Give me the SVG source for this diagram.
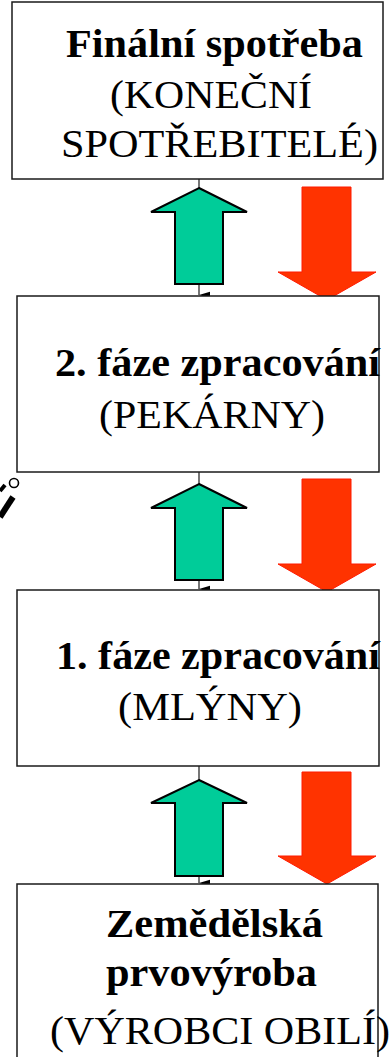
<svg xmlns="http://www.w3.org/2000/svg" width="392" height="1057" viewBox="0 0 392 1057">
  <defs>
    <style>
      .box { fill: #ffffff; stroke: #1a1a1a; stroke-width: 1.5; }
      .t { font-family: "Liberation Serif", "Times New Roman", serif; font-size: 41px; fill: #000000; }
      .b { font-weight: bold; }
      .conn { stroke: #1a1a1a; stroke-width: 1.2; fill: none; }
      .up { fill: #00CC99; stroke: #000000; stroke-width: 2; stroke-linejoin: miter; }
      .down { fill: #FF3300; stroke: #FF1A00; stroke-width: 1; }
    </style>
    <marker id="tip" markerUnits="userSpaceOnUse" markerWidth="8" markerHeight="12" refX="4" refY="11" orient="auto-start-reverse" viewBox="0 0 8 12">
      <path d="M0.8,0 L7.2,0 L4,11 Z" fill="#000000"/>
    </marker>
  </defs>
  <rect width="392" height="1057" fill="#ffffff"/>

  <g id="connectors">
    <line class="conn" x1="199" y1="179" x2="199" y2="295" marker-end="url(#tip)"/>
    <line class="conn" x1="199" y1="472" x2="199" y2="589" marker-end="url(#tip)"/>
    <line class="conn" x1="199" y1="766" x2="199" y2="883" marker-end="url(#tip)"/>
  </g>

  <g id="flows">
    <polygon class="up" points="199,188 247,212 223,212 223,284 175,284 175,212 151,212"/>
    <polygon class="up" points="199,484 247,508 223,508 223,580 175,580 175,508 151,508"/>
    <polygon class="up" points="199,780 247,803 223,803 223,876 175,876 175,803 151,803"/>
    <polygon class="down" points="302,187 351,187 351,272 376,272 327,300 278,272 302,272"/>
    <polygon class="down" points="302,479 351,479 351,564 376,564 327,592 278,564 302,564"/>
    <polygon class="down" points="302,772 351,772 351,856 376,856 327,884 278,856 302,856"/>
  </g>

  <g id="node-final">
    <rect class="box" x="12" y="2" width="371" height="177"/>
    <text class="t b" x="66" y="57" textLength="297" lengthAdjust="spacingAndGlyphs">Finální spotřeba</text>
    <text class="t" x="110" y="108" textLength="202" lengthAdjust="spacingAndGlyphs">(KONEČNÍ</text>
    <text class="t" x="61" y="157" textLength="317" lengthAdjust="spacingAndGlyphs">SPOTŘEBITELÉ)</text>
  </g>

  <g id="node-faze2">
    <rect class="box" x="17" y="296" width="362" height="176"/>
    <text class="t b" x="55" y="376" textLength="325" lengthAdjust="spacingAndGlyphs">2. fáze zpracování</text>
    <text class="t" x="99" y="428" textLength="226" lengthAdjust="spacingAndGlyphs">(PEKÁRNY)</text>
  </g>

  <g id="node-faze1">
    <rect class="box" x="17" y="590" width="362" height="176"/>
    <text class="t b" x="56" y="669" textLength="324" lengthAdjust="spacingAndGlyphs">1. fáze zpracování</text>
    <text class="t" x="118" y="720" textLength="184" lengthAdjust="spacingAndGlyphs">(MLÝNY)</text>
  </g>

  <g id="node-prvovyroba">
    <rect class="box" x="17" y="884" width="361" height="180"/>
    <text class="t b" x="106" y="937" textLength="217" lengthAdjust="spacingAndGlyphs">Zemědělská</text>
    <text class="t b" x="106" y="986" textLength="211" lengthAdjust="spacingAndGlyphs">prvovýroba</text>
    <text class="t" x="50" y="1044" textLength="340" lengthAdjust="spacingAndGlyphs">(VÝROBCI OBILÍ)</text>
  </g>

  <g id="pen-icon">
    <line x1="0" y1="517" x2="13" y2="497" stroke="#000000" stroke-width="6"/>
    <line x1="0" y1="491" x2="5" y2="485" stroke="#000000" stroke-width="4"/>
    <circle cx="14" cy="483" r="4.5" fill="#ffffff" stroke="#000000" stroke-width="1.6"/>
  </g>
</svg>
